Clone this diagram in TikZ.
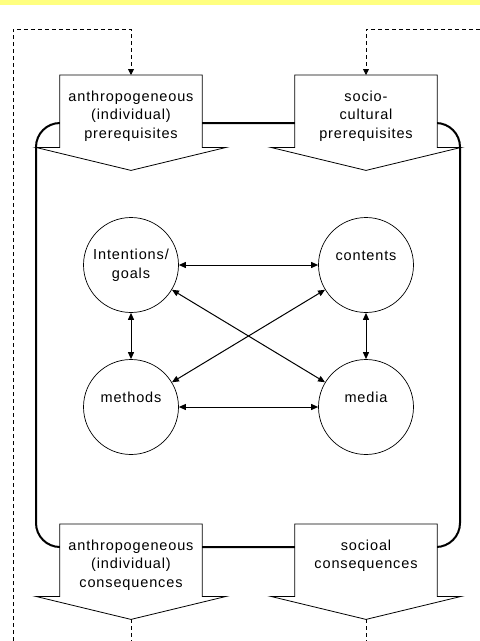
\documentclass[tikz,border=0pt]{standalone}
\usepackage{fontspec}
\setmainfont{Liberation Sans}[LetterSpace=6]
\usetikzlibrary{arrows.meta}

\definecolor{barcol}{RGB}{255,255,128}

\tikzset{
  abox/.style={fill=white, inner sep=0pt, anchor=north},
  topic/.style={circle, draw, line width=0.7pt, minimum size=95pt, inner sep=0pt, align=center},
  oneline/.style={text depth=19pt},
  link/.style={{Triangle[length=7pt,width=6pt]}-{Triangle[length=7pt,width=6pt]}, line width=1pt},
  fb/.style={dash pattern=on 4pt off 3pt, line width=0.8pt},
  frame/.style={line width=2pt, rounded corners=24pt}
}

% text of an arrow box, set from the top
\newcommand{\boxtext}[1]{\parbox[c][72pt][t]{142pt}{\centering\vspace*{13pt}\strut #1}}
% outline of an arrow box, with its tip named <node>tip
\newcommand{\arrowbox}[1]{%
  \draw[line width=0.8pt] (#1.south west) -- (#1.north west) -- (#1.north east)
    -- (#1.south east) -- ([xshift=24pt]#1.south east)
    -- ([yshift=-23pt]#1.south) coordinate (#1tip)
    -- ([xshift=-24pt]#1.south west) -- cycle;}

\begin{document}
\begin{tikzpicture}[x=1pt, y=-1pt, font=\fontsize{14.5}{18.5}\selectfont]
    \useasboundingbox (0,0) rectangle (480,641);
    \fill[barcol] (0,0) rectangle (480,5);

    % Frame behind the boxes
    \draw[frame] (36,123) rectangle (460,547);

    % Arrow boxes
    \node[abox] (anthpre) at (131,75) {\boxtext{anthropogeneous\\(individual)\\prerequisites}};
    \node[abox] (socpre) at (366,75) {\boxtext{socio-\\cultural\\prerequisites}};
    \node[abox] (anthcon) at (131,524) {\boxtext{anthropogeneous\\(individual)\\consequences}};
    \node[abox] (soccon) at (366,524) {\boxtext{socioal\\consequences}};
    \arrowbox{anthpre}
    \arrowbox{socpre}
    \arrowbox{anthcon}
    \arrowbox{soccon}

    % Feedback lines
    \coordinate (fbL) at (13,641);
    \coordinate (fbLtop) at (13,29);
    \coordinate (fbR) at (480,29);
    \draw[fb, -{Triangle[length=6pt,width=6pt]}] (fbL) -- (fbLtop) -| (anthpre.north);
    \draw[fb, -{Triangle[length=6pt,width=6pt]}] (fbR) -| (socpre.north);
    \draw[fb] (anthcontip) -- (anthcontip |- fbL);
    \draw[fb] (soccontip) -- (soccontip |- fbL);

    % Circles
    \node[topic] (goals) at (131,265) {Intentions/\\goals};
    \node[topic, oneline] (contents) at (366,265) {contents};
    \node[topic, oneline] (methods) at (131,407) {methods};
    \node[topic, oneline] (media) at (366,407) {media};

    \draw[link] (goals) -- (contents);
    \draw[link] (methods) -- (media);
    \draw[link] (goals) -- (methods);
    \draw[link] (contents) -- (media);
    \draw[link] (goals) -- (media);
    \draw[link] (contents) -- (methods);
\end{tikzpicture}
\end{document}
